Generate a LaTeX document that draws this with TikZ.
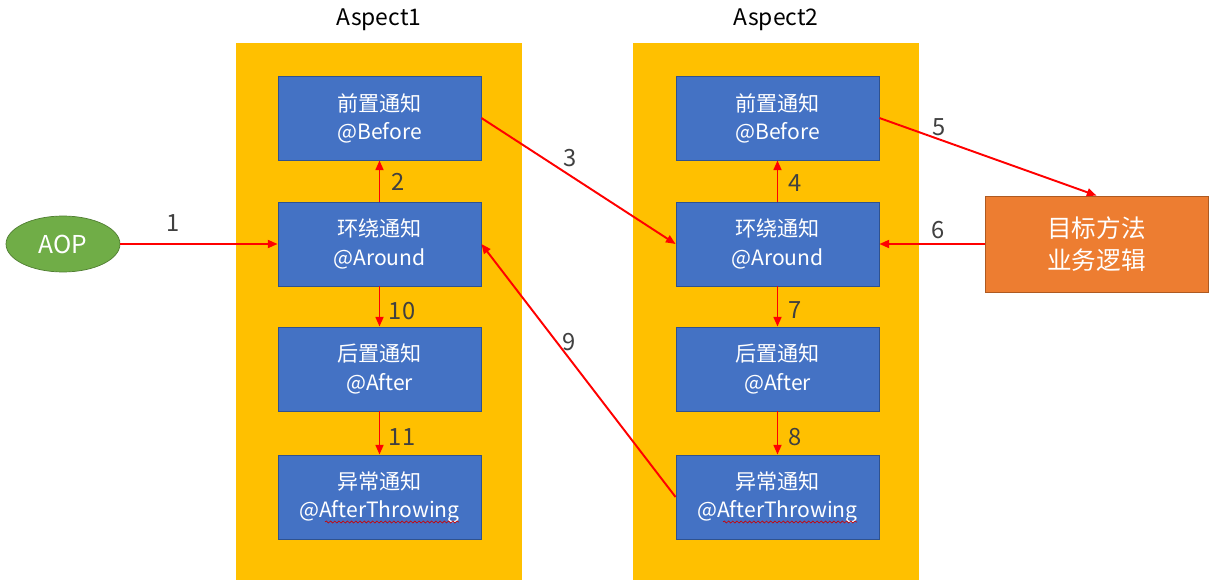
\documentclass[tikz,border=0pt]{standalone}
\usepackage{fontspec}
\setmainfont{Noto Sans CJK SC}
\usetikzlibrary{arrows.meta,decorations.pathmorphing,shapes.geometric}
\definecolor{aspectfill}{HTML}{FFC000}
\definecolor{boxfill}{HTML}{4472C4}
\definecolor{boxline}{HTML}{2F528F}
\definecolor{tgtfill}{HTML}{ED7D31}
\definecolor{tgtline}{HTML}{AE5A21}
\definecolor{aopfill}{HTML}{70AD47}
\definecolor{aopline}{HTML}{507E32}
\definecolor{numcol}{HTML}{404040}
\definecolor{arrred}{HTML}{FF0000}
\begin{document}
\begin{tikzpicture}[x=0.02cm,y=-0.02cm,
  aspectbox/.style={rectangle,fill=aspectfill,draw=none,minimum width=5.72cm,minimum height=10.74cm,inner sep=0pt},
  advbox/.style={rectangle,fill=boxfill,draw=boxline,line width=0.5pt,minimum width=4.06cm,minimum height=1.68cm,inner sep=0pt,text=white,font=\fontsize{12}{16}\selectfont,align=center},
  tgtbox/.style={rectangle,fill=tgtfill,draw=tgtline,line width=0.5pt,minimum width=4.46cm,minimum height=1.92cm,inner sep=0pt,text=white,font=\fontsize{14}{18.5}\selectfont,align=center},
  aopnode/.style={ellipse,fill=aopfill,draw=aopline,line width=0.4pt,minimum width=2.28cm,minimum height=1.12cm,inner sep=0pt,text=white,font=\fontsize{14}{16}\selectfont},
  titlelbl/.style={font=\fontsize{13}{16}\selectfont,text=black},
  numlbl/.style={font=\fontsize{13.5}{16}\selectfont,text=numcol,inner sep=0pt},
  conn/.style={draw=arrred,line width=1.1pt,-{Triangle[length=5.5pt,width=4.5pt]}},
  squiggle/.style={draw=red!80!black,line width=0.35pt,decorate,decoration={snake,amplitude=0.6pt,segment length=2.4pt}}
]
\useasboundingbox (0,0) rectangle (1215,588);
\fill[white] (0,0) rectangle (1215,588);

% aspect containers
\node[aspectbox] (asp1) at (379,311.5) {};
\node[aspectbox] (asp2) at (776,311.5) {};
\node[titlelbl] (t1) at (379,20) {Aspect1};
\node[titlelbl] (t2) at (776,20) {Aspect2};

% aspect 1 boxes
\node[advbox] (before1) at (379.5,118) {前置通知\\@Before};
\node[advbox] (around1) at (379.5,244) {环绕通知\\@Around};
\node[advbox] (after1) at (379.5,369) {后置通知\\@After};
\node[advbox] (throw1) at (379.5,497) {异常通知\\@AfterThrowing};

% aspect 2 boxes
\node[advbox] (before2) at (777.5,118) {前置通知\\@Before};
\node[advbox] (around2) at (777.5,244) {环绕通知\\@Around};
\node[advbox] (after2) at (777.5,369) {后置通知\\@After};
\node[advbox] (throw2) at (777.5,497) {异常通知\\@AfterThrowing};

% spell-check squiggles
\draw[squiggle] (325,522) -- (459,522);
\draw[squiggle] (723,522) -- (857,522);

% AOP and target
\node[aopnode] (aop) at (63,244) {AOP};
\node[tgtbox] (target) at (1096.5,244) {目标方法\\业务逻辑};

% connectors
\draw[conn] (aop.east) -- (around1.west);
\draw[conn] (around1.north) -- (before1.south);
\draw[conn] (before1.east) -- (around2.west);
\draw[conn] (around2.north) -- (before2.south);
\draw[conn] (before2.east) -- (target.north);
\draw[conn] (target.west) -- (around2.east);
\draw[conn] (around2.south) -- (after2.north);
\draw[conn] (after2.south) -- (throw2.north);
\draw[conn] (throw2.west) -- (around1.east);
\draw[conn] (around1.south) -- (after1.north);
\draw[conn] (after1.south) -- (throw1.north);

% labels
\node[numlbl] (n1) at (173,223) {1};
\node[numlbl] (n2) at (398,182) {2};
\node[numlbl] (n3) at (570,158) {3};
\node[numlbl] (n4) at (795,183) {4};
\node[numlbl] (n5) at (939,127) {5};
\node[numlbl] (n6) at (938,230) {6};
\node[numlbl] (n7) at (795,310) {7};
\node[numlbl] (n8) at (795,437) {8};
\node[numlbl] (n9) at (569,342) {9};
\node[numlbl] (n10) at (402,311) {10};
\node[numlbl] (n11) at (402,437) {11};
\end{tikzpicture}
\end{document}
